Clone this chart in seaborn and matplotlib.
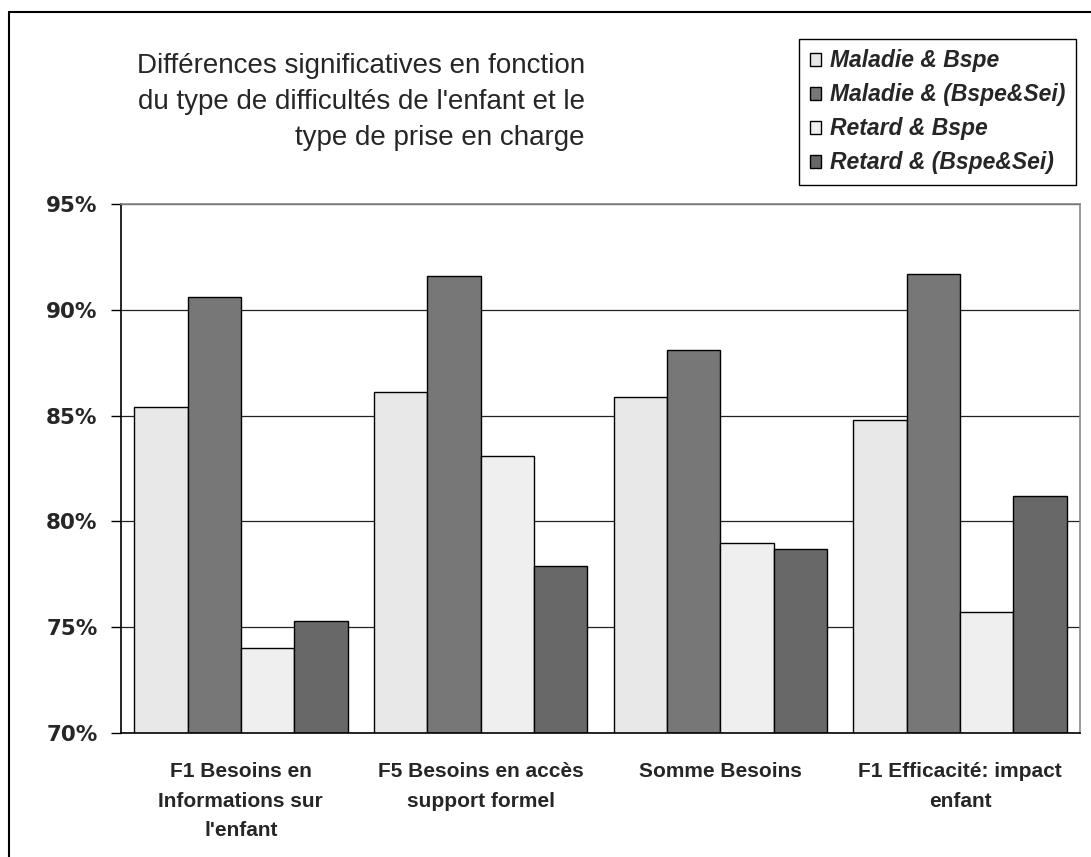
import numpy as np
import pandas as pd
import seaborn as sns
import matplotlib.pyplot as plt
from matplotlib.lines import Line2D

# values (percent)
categories = ["F1 Besoins en\nInformations sur\nl'enfant",
              "F5 Besoins en accès\nsupport formel",
              "Somme Besoins",
              "F1 Efficacité: impact\nenfant"]
series = ["Maladie & Bspe", "Maladie & (Bspe&Sei)",
          "Retard & Bspe", "Retard & (Bspe&Sei)"]
maladie_bspe = [85.4, 86.1, 85.9, 84.8]
maladie_bspe_sei = [90.6, 91.6, 88.1, 91.7]
retard_bspe = [74.0, 83.1, 79.0, 75.7]
retard_bspe_sei = [75.3, 77.9, 78.7, 81.2]
colors = ["#e8e8e8", "#777777", "#efefef", "#686868"]

df = pd.DataFrame({
    "cat": categories * 4,
    "serie": np.repeat(series, 4),
    "val": maladie_bspe + maladie_bspe_sei + retard_bspe + retard_bspe_sei,
})

sns.set_style("white")
plt.rcParams["font.family"] = ["Liberation Sans", "DejaVu Sans"]

fig = plt.figure(figsize=(10.91, 8.57), dpi=100)
ax = fig.add_axes([121 / 1091, 1 - 733 / 857, (1080 - 121) / 1091, (733 - 204) / 857])

sns.barplot(data=df, x="cat", y="val", hue="serie", hue_order=series,
            palette=colors, saturation=1, width=0.89, edgecolor="black",
            linewidth=1, ax=ax)

ax.set_ylim(70, 95)
ax.set_xlim(-0.5, 3.5)
ax.set_yticks([70, 75, 80, 85, 90, 95])
ax.set_yticklabels([f"{v}%" for v in [70, 75, 80, 85, 90, 95]],
                   fontsize=15.5, fontweight="bold", family=["DejaVu Sans"])
ax.set_xticks(range(4))
ax.set_xticklabels(categories, fontsize=15, fontweight="bold",
                   linespacing=1.7)
ax.set_xticks([-0.5, 0.5, 1.5, 2.5, 3.5], minor=True)
ax.tick_params(axis="x", which="major", length=0, pad=21)
ax.tick_params(axis="x", which="minor", length=7, width=1, direction="out", color="black")
ax.tick_params(axis="y", length=7, width=1, direction="out", color="black", pad=10, left=True)
ax.set_xlabel("")
ax.set_ylabel("")

ax.yaxis.grid(True, color="#222222", linewidth=0.9)
ax.set_axisbelow(True)
for s in ["left", "bottom"]:
    ax.spines[s].set_color("black")
    ax.spines[s].set_linewidth(1.2)
for s in ["top", "right"]:
    ax.spines[s].set_color("#888888")
    ax.spines[s].set_linewidth(1.2)

handles, labels = ax.get_legend_handles_labels()
ax.get_legend().remove()
leg = fig.legend(handles, labels, loc="upper right",
                 bbox_to_anchor=(1076 / 1091, 1 - 39 / 857),
                 frameon=True, fancybox=False, edgecolor="black", framealpha=1,
                 prop={"size": 16.5, "weight": "bold", "style": "italic"},
                 handlelength=0.5, handleheight=0.5, handletextpad=0.4,
                 labelspacing=0.48, borderpad=0.45, borderaxespad=0)
leg.get_frame().set_linewidth(1)

fig.text(585 / 1091, 1 - 102 / 857,
         "Différences significatives en fonction\n"
         "du type de difficultés de l'enfant et le\n"
         "type de prise en charge",
         ha="right", va="center", multialignment="right",
         fontsize=20, linespacing=1.52)

# outer frame (left and top edges visible)
fig.add_artist(Line2D([9 / 1091, 9 / 1091], [0, 1 - 12 / 857],
                      transform=fig.transFigure, color="black", lw=1.5))
fig.add_artist(Line2D([9 / 1091, 1], [1 - 12 / 857, 1 - 12 / 857],
                      transform=fig.transFigure, color="black", lw=1.5))

fig.savefig("out.png", dpi=100)
